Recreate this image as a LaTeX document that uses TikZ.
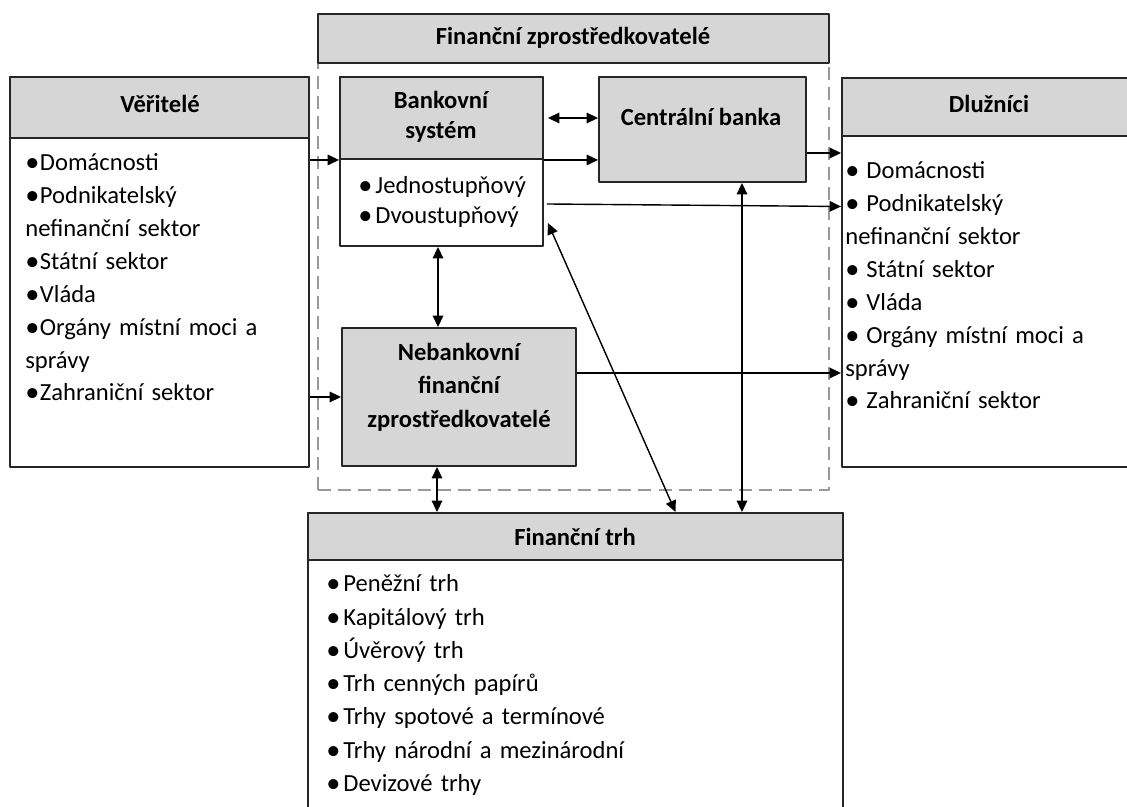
\documentclass[tikz,border=0pt]{standalone}
\usepackage{fontspec}
\setmainfont{Carlito}
\usetikzlibrary{arrows.meta,fit}

\newcommand{\blt}[1][0.01cm]{\raisebox{-0.04em}{\scalebox{1.15}{\textbullet}}\hspace{#1}}

\begin{document}
\begin{tikzpicture}[
        x = 0.02cm, y = -0.02cm,
        line join = round,
        box/.style = {draw = black!85, line width = 1.1pt, inner sep = 0pt, fill = white},
        head/.style = {box, fill = gray!32},
        title/.style = {font = \fontsize{14}{#1}\selectfont\bfseries, align = center, inner sep = 0pt},
        title/.default = 19,
        itemlist/.style = {anchor = base west, inner sep = 0pt, text width = 6cm, align = left, font = \fontsize{14}{#1}\selectfont},
        frame/.style = {draw = black!40, line width = 1.4pt, dash pattern = on 7.4pt off 4pt, inner sep = 0pt},
        arr/.style = {-{Triangle[length = 6.5pt, width = 6pt]}, line width = 0.8pt},
        dbl/.style = {{Triangle[length = 6.5pt, width = 6pt]}-{Triangle[length = 6.5pt, width = 6pt]}, line width = 0.8pt}
    ]

    \useasboundingbox (0, 0) rectangle (1127, 807);
    \clip (0, 0) rectangle (1127, 807);

    % financni zprostredkovatele
    \node[frame, fit = {(318, 63) (829, 490)}] (fz) {};
    \node[head, fit = {(318, 14) (829, 63)}] (fzh) {};
    \node[title] (fzt) at (573, 38) {Finanční zprostředkovatelé};

    \node[box, fit = {(340, 77) (543, 246)}] (bank) {};
    \node[head, fit = {(340, 77) (543, 159)}] (bankh) {};
    \node[title = 17] (bankt) at (441, 117) {Bankovní\\systém};
    \node[itemlist = 17] (banklist) at (358, 194) {\blt[0.06cm]Jednostupňový\\\blt[0.06cm]Dvoustupňový};

    \node[head, fit = {(599, 77) (806, 182)}] (cb) {};
    \node[title] (cbt) at (701, 117) {Centrální banka};

    \node[head, fit = {(342, 328) (576, 466)}] (neb) {};
    \node[title] (nebt) at (459, 387) {Nebankovní\\finanční\\zprostředkovatelé};

    % veritele
    \node[box, fit = {(10, 77) (309, 467)}] (ver) {};
    \node[head, fit = {(10, 77) (309, 138)}] (verh) {};
    \node[title] (vert) at (160, 104) {Věřitelé};
    \node[itemlist = 18.7] (verlist) at (25, 171) {\blt Domácnosti\\\blt Podnikatelský\\nefinanční sektor\\\blt Státní sektor\\\blt Vláda\\\blt Orgány místní moci a\\správy\\\blt Zahraniční sektor};

    % dluznici
    \node[box, fit = {(842, 78) (1136, 467)}] (dl) {};
    \node[head, fit = {(842, 78) (1136, 136)}] (dlh) {};
    \node[title] (dlt) at (989, 104) {Dlužníci};
    \node[itemlist = 18.7] (dllist) at (845, 179) {\blt[0.14cm]Domácnosti\\\blt[0.14cm]Podnikatelský\\nefinanční sektor\\\blt[0.14cm]Státní sektor\\\blt[0.14cm]Vláda\\\blt[0.14cm]Orgány místní moci a\\správy\\\blt[0.14cm]Zahraniční sektor};

    % financni trh
    \node[box, fit = {(308, 513) (843, 830)}] (trh) {};
    \node[head, fit = {(308, 513) (843, 560)}] (trhh) {};
    \node[title] (trht) at (575, 537) {Finanční trh};
    \node[itemlist = 18.9] (trhlist) at (326, 592) {\blt[0.06cm]Peněžní trh\\\blt[0.06cm]Kapitálový trh\\\blt[0.06cm]Úvěrový trh\\\blt[0.06cm]Trh cenných papírů\\\blt[0.06cm]Trhy spotové a termínové\\\blt[0.06cm]Trhy národní a mezinárodní\\\blt[0.06cm]Devizové trhy};

    % toky
    \draw[arr] (ver.east |- bankh.south) -- (bankh.south west);
    \draw[arr] (ver.east |- neb.west) -- (neb.west);
    \draw[dbl] ([xshift = 0.08cm]bankh.east) -- (cb.west |- bankh.east);
    \draw[arr] (bankh.south east) -- (cb.west |- bankh.south east);
    \draw[arr] ([yshift = -0.47cm]cb.east) -- ([yshift = -0.47cm]cb.east -| dl.west);
    \draw[arr] ([xshift = 0.06cm, yshift = -0.85cm]bank.east) -- ([yshift = -0.9cm]bank.east -| dl.west);
    \draw[arr] ([yshift = 0.48cm]neb.east) -- ([yshift = 0.48cm]neb.east -| dl.west);

    \draw[dbl] ([xshift = -0.07cm]bank.south) -- ([xshift = -0.07cm]bank.south |- neb.north);
    \draw[dbl] ([xshift = 0.08cm, yshift = -1.23cm]bank.east) -- ([xshift = 2.0cm]trh.north);
    \draw[dbl] ([xshift = 0.79cm]cb.south) -- ([xshift = 0.79cm]cb.south |- trh.north);
    \draw[dbl] ([xshift = -0.44cm]neb.south) -- ([xshift = -0.44cm]neb.south |- trh.north);

\end{tikzpicture}
\end{document}
